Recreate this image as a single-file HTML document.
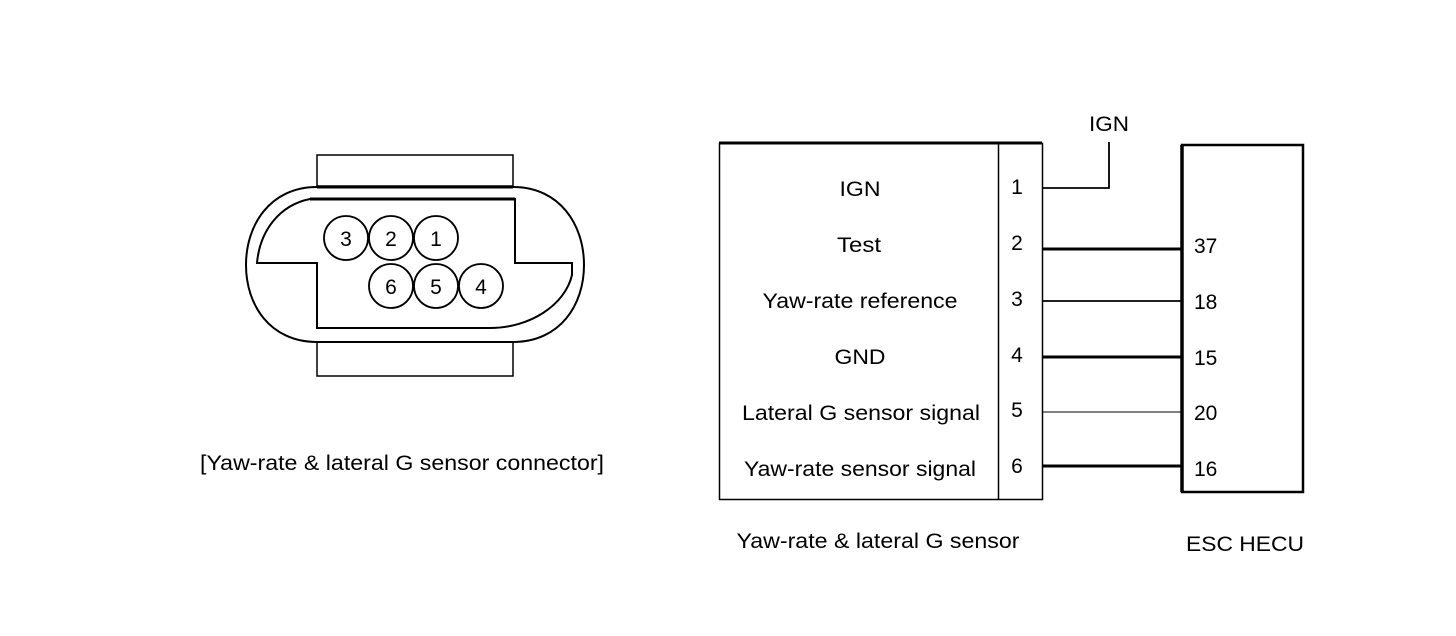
<!DOCTYPE html>
<html><head><style>
body{margin:0;background:#fff;}
svg{display:block;}
text{font-family:"Liberation Sans",sans-serif;font-size:21px;fill:#000;}
</style></head><body>
<svg width="1456" height="636" viewBox="0 0 1456 636">
<g fill="none" stroke="#000">
<rect x="317" y="155" width="196" height="31" stroke-width="1.5" fill="#fff"/>
<rect x="317" y="341" width="196" height="35" stroke-width="1.5" fill="#fff"/>
<path d="M317 187 L513 187 C560 187 584 225 584 265 C584 305 560 342 513 342 L317 342 C270 342 246 305 246 265 C246 225 270 187 317 187 Z" stroke-width="2" fill="#fff"/>
<line x1="317" y1="187" x2="513" y2="187" stroke-width="3"/>
<path d="M310 199 L515 199 L515 263 L572 263 L572 275 C565 305 530 328 490 328 L317 328 L317 263 L257 263 C260 230 280 205 310 199 Z" stroke-width="2"/>
<line x1="310" y1="199" x2="515" y2="199" stroke-width="3"/>
<g stroke-width="1.8" fill="#fff">
<circle cx="346" cy="238" r="22"/><circle cx="391" cy="238" r="22"/><circle cx="436" cy="238" r="22"/>
<circle cx="391" cy="286" r="22"/><circle cx="436" cy="286" r="22"/><circle cx="481" cy="286" r="22"/>
</g>
<rect x="719.5" y="143.5" width="323" height="356" stroke-width="1.5"/>
<line x1="719" y1="143" x2="1042" y2="143" stroke-width="3"/>
<line x1="998.5" y1="143" x2="998.5" y2="499" stroke-width="1.5"/>
<rect x="1182" y="145" width="121" height="347" stroke-width="2.5"/>
<line x1="1182" y1="145" x2="1182" y2="492" stroke-width="3.5"/>
<polyline points="1042,188 1109,188 1109,142" stroke-width="1.8"/>
<line x1="1042" y1="249" x2="1182" y2="249" stroke-width="3"/>
<line x1="1042" y1="301" x2="1182" y2="301" stroke-width="1.8"/>
<line x1="1042" y1="357" x2="1182" y2="357" stroke-width="3"/>
<line x1="1042" y1="412" x2="1182" y2="412" stroke-width="1"/>
<line x1="1042" y1="466" x2="1182" y2="466" stroke-width="3"/>
</g>
<g text-anchor="middle">
<text x="346" y="246">3</text><text x="391" y="246">2</text><text x="436" y="246">1</text>
<text x="391" y="294">6</text><text x="436" y="294">5</text><text x="481" y="294">4</text>
<text x="402" y="470" textLength="404" lengthAdjust="spacingAndGlyphs">[Yaw-rate &amp; lateral G sensor connector]</text>
<text x="860" y="196" textLength="41" lengthAdjust="spacingAndGlyphs">IGN</text>
<text x="859" y="252" textLength="44" lengthAdjust="spacingAndGlyphs">Test</text>
<text x="860" y="308" textLength="195" lengthAdjust="spacingAndGlyphs">Yaw-rate reference</text>
<text x="860" y="364" textLength="51" lengthAdjust="spacingAndGlyphs">GND</text>
<text x="861" y="420" textLength="238" lengthAdjust="spacingAndGlyphs">Lateral G sensor signal</text>
<text x="860" y="476" textLength="232" lengthAdjust="spacingAndGlyphs">Yaw-rate sensor signal</text>
<text x="1017" y="194">1</text><text x="1017" y="250">2</text><text x="1017" y="306">3</text>
<text x="1017" y="362">4</text><text x="1017" y="417">5</text><text x="1017" y="473">6</text>
<text x="1109" y="131" textLength="40" lengthAdjust="spacingAndGlyphs">IGN</text>
<text x="878" y="548" textLength="283" lengthAdjust="spacingAndGlyphs">Yaw-rate &amp; lateral G sensor</text>
<text x="1245" y="551" textLength="118" lengthAdjust="spacingAndGlyphs">ESC HECU</text>
</g>
<g>
<text x="1194" y="253">37</text><text x="1194" y="309">18</text><text x="1194" y="365">15</text>
<text x="1194" y="420">20</text><text x="1194" y="476">16</text>
</g>
</svg>
</body></html>
